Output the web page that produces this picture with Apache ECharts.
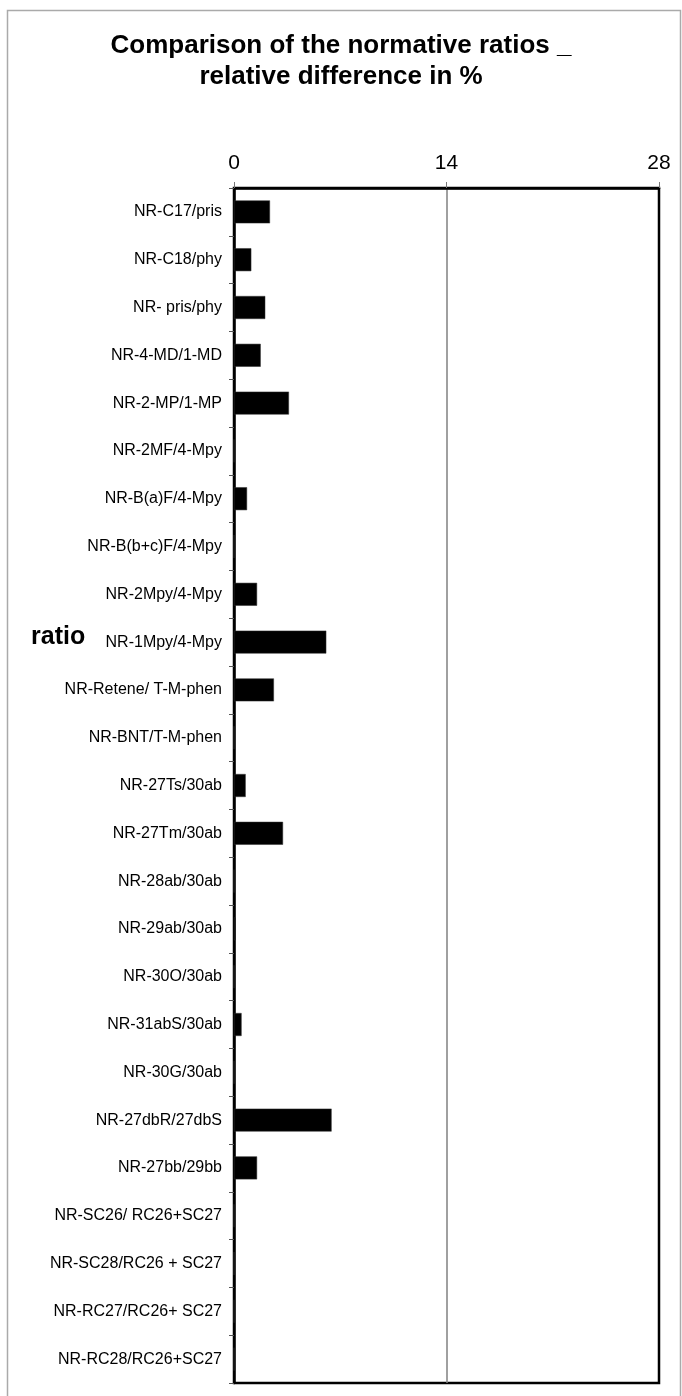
<!DOCTYPE html>
<html>
<head>
<meta charset="utf-8">
<script src="https://cdn.jsdelivr.net/npm/echarts@6/dist/echarts.min.js"></script>
<style>html,body{margin:0;padding:0;background:#fff}#c{width:682px;height:1396px}</style>
</head>
<body>
<div id="c"></div>
<script>
const categories = [
  'NR-C17/pris', 'NR-C18/phy', 'NR- pris/phy', 'NR-4-MD/1-MD', 'NR-2-MP/1-MP',
  'NR-2MF/4-Mpy', 'NR-B(a)F/4-Mpy', 'NR-B(b+c)F/4-Mpy', 'NR-2Mpy/4-Mpy', 'NR-1Mpy/4-Mpy',
  'NR-Retene/ T-M-phen', 'NR-BNT/T-M-phen', 'NR-27Ts/30ab', 'NR-27Tm/30ab', 'NR-28ab/30ab',
  'NR-29ab/30ab', 'NR-30O/30ab', 'NR-31abS/30ab', 'NR-30G/30ab', 'NR-27dbR/27dbS',
  'NR-27bb/29bb', 'NR-SC26/ RC26+SC27', 'NR-SC28/RC26 + SC27', 'NR-RC27/RC26+ SC27', 'NR-RC28/RC26+SC27'
];
const values = [
  2.37, 1.14, 2.06, 1.76, 3.62,
  0, 0.86, 0, 1.52, 6.08,
  2.63, 0, 0.77, 3.23, 0,
  0.11, 0, 0.5, 0, 6.43,
  1.52, 0, 0, 0, 0
];
const xMin = 0, xMax = 28, xStep = 14;
const titleText = 'Comparison of the normative ratios _\nrelative difference in %';
const axisName = 'ratio';

const FONT = '"Liberation Sans", Arial, Helvetica, sans-serif';
const chart = echarts.init(document.getElementById('c'), null, {renderer: 'canvas'});
chart.setOption({
  animation: false,
  backgroundColor: '#fff',
  textStyle: {fontFamily: FONT},
  title: {
    text: titleText,
    left: 'center',
    top: 25,
    textStyle: {fontFamily: FONT, fontSize: 26, fontWeight: 'bold', lineHeight: 31, color: '#000'}
  },
  grid: {left: 234, right: 23, top: 188, bottom: 13, show: true, borderColor: '#000', borderWidth: 2.5},
  xAxis: {
    type: 'value', position: 'top', min: xMin, max: xMax, interval: xStep,
    axisLine: {show: true, lineStyle: {color: '#000', width: 2.5}},
    axisTick: {show: true, length: 6, lineStyle: {color: '#777', width: 1}},
    axisLabel: {fontFamily: FONT, fontSize: 21, color: '#000', margin: 14},
    splitLine: {show: true, lineStyle: {color: ['#000', '#808080', '#000'], width: 1.5}}
  },
  yAxis: {
    type: 'category', data: categories, inverse: true,
    axisLine: {show: true, lineStyle: {color: '#000', width: 2.5}},
    axisTick: {show: true, length: 5, lineStyle: {color: '#555', width: 1}},
    axisLabel: {fontFamily: FONT, fontSize: 16, color: '#000', margin: 12},
    splitLine: {show: false}
  },
  series: [{
    type: 'bar', data: values, barWidth: '48%',
    itemStyle: {color: '#000', borderColor: '#333', borderWidth: 0.5}
  }],
  graphic: [
    {type: 'rect', silent: true, z: -1, shape: {x: 7.5, y: 10.5, width: 673, height: 1400},
     style: {fill: null, stroke: '#aaaaaa', lineWidth: 1.5}},
    {type: 'text', left: 31, top: 625, style: {text: axisName, font: 'bold 25px ' + FONT, fill: '#000'}}
  ]
});
</script>
</body>
</html>
